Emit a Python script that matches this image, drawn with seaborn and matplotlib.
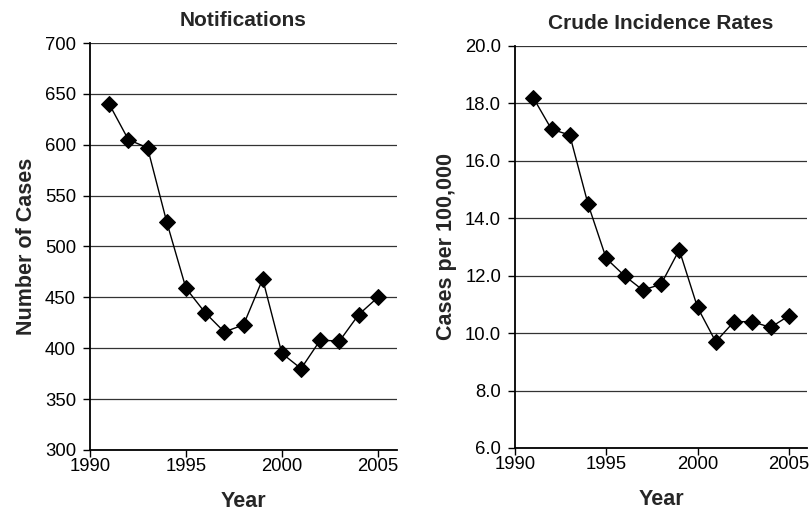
import matplotlib
matplotlib.use("Agg")
import matplotlib.pyplot as plt
import seaborn as sns
import pandas as pd

years = [1991, 1992, 1993, 1994, 1995, 1996, 1997, 1998, 1999, 2000, 2001, 2002, 2003, 2004, 2005]
notifications = [640, 605, 597, 524, 459, 435, 416, 423, 468, 395, 380, 408, 407, 433, 450]
incidence = [18.2, 17.1, 16.9, 14.5, 12.6, 12.0, 11.5, 11.7, 12.9, 10.9, 9.7, 10.4, 10.4, 10.2, 10.6]

df = pd.DataFrame({"Year": years, "Notifications": notifications, "Incidence": incidence})

sns.set_theme(style="white")
plt.rcParams["font.family"] = ["Liberation Sans", "DejaVu Sans"]

fig = plt.figure(figsize=(8.09, 5.13), dpi=100)
ax1 = fig.add_axes([90/809, 1-450/513, 307/809, 407/513])
ax2 = fig.add_axes([515/809, 1-448/513, 292/809, 402/513])

def style(ax, ylim, yticks, fmt, title, ylabel):
    ax.set_xlim(1990, 2006)
    ax.set_ylim(*ylim)
    ax.set_xticks([1990, 1995, 2000, 2005])
    ax.set_yticks(yticks)
    ax.set_yticklabels([fmt.format(v) for v in yticks])
    ax.yaxis.grid(True, color="#333333", linewidth=0.9)
    ax.xaxis.grid(False)
    ax.set_axisbelow(True)
    for s in ["top", "right"]:
        ax.spines[s].set_visible(False)
    for s in ["left", "bottom"]:
        ax.spines[s].set_color("black")
        ax.spines[s].set_linewidth(1.3)
    ax.tick_params(axis="both", direction="out", length=5, width=1, color="black",
                   labelsize=13.3, labelcolor="black", bottom=True, left=True)
    ax.tick_params(axis="y", pad=5)
    ax.tick_params(axis="x", pad=1)
    ax.set_title(title, fontsize=15, fontweight="bold", pad=12)
    ax.set_xlabel("Year", fontsize=15.5, fontweight="bold", labelpad=11)
    ax.set_ylabel(ylabel, fontsize=15.5, fontweight="bold", labelpad=6)

sns.lineplot(data=df, x="Year", y="Notifications", ax=ax1, color="black", linewidth=1,
             marker="D", markersize=8, markeredgecolor="black", markerfacecolor="black")
style(ax1, (300, 700), list(range(300, 701, 50)), "{:d}", "Notifications", "Number of Cases")

sns.lineplot(data=df, x="Year", y="Incidence", ax=ax2, color="black", linewidth=1,
             marker="D", markersize=8, markeredgecolor="black", markerfacecolor="black")
style(ax2, (6, 20), [6, 8, 10, 12, 14, 16, 18, 20], "{:.1f}", "Crude Incidence Rates", "Cases per 100,000")

fig.savefig("out.png", dpi=100)
